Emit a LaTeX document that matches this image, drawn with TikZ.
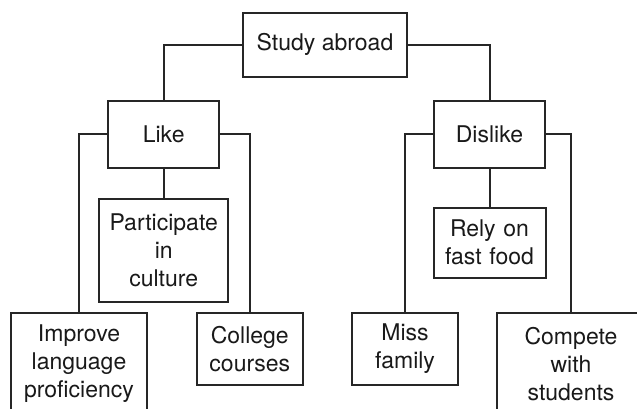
\documentclass[tikz,border=0pt]{standalone}
\usepackage{fontspec}
\setmainfont{TeX Gyre Heros}
\begin{document}
\begin{tikzpicture}[x=1pt,y=-1pt,
  box/.style={draw=black!85, line width=2pt, inner sep=0pt, align=center,
    text=black!90, font=\fontsize{23}{28}\selectfont},
  link/.style={draw=black!85, line width=2pt}]
\useasboundingbox (0,0) rectangle (637,409);
\clip (0,0) rectangle (637,409);
\node[box, minimum width=163.5pt, minimum height=64pt] (root) at (325,44.7) {Study abroad};
\node[box, minimum width=111.5pt, minimum height=67pt] (like) at (163.7,134.2) {Like};
\node[box, minimum width=111pt, minimum height=67pt] (dislike) at (489.5,134.2) {Dislike};
\node[box, minimum width=129.5pt, minimum height=103pt, text width=125pt] (part) at (163.7,250.5) {Participate\\in\\culture};
\node[box, minimum width=112pt, minimum height=70pt, text width=108pt] (rely) at (489.5,242.5) {Rely on\\fast food};
\node[box, minimum width=136pt, minimum height=102pt, text width=132pt] (improve) at (79,364) {Improve\\language\\proficiency};
\node[box, minimum width=105.5pt, minimum height=72pt, text width=100pt] (college) at (249.8,349) {College\\courses};
\node[box, minimum width=106pt, minimum height=72pt, text width=100pt] (miss) at (405,349) {Miss\\family};
\node[box, minimum width=148pt, minimum height=102pt, text width=140pt] (compete) at (571,364) {Compete\\with\\students};
\draw[link] (root.west) -| (like.north);
\draw[link] (root.east) -| (dislike.north);
\draw[link] (like.west) -| (improve.north);
\draw[link] (like.east) -| (college.north);
\draw[link] (like.south) -- (part.north);
\draw[link] (dislike.west) -| (miss.north);
\draw[link] (dislike.east) -| (compete.north);
\draw[link] (dislike.south) -- (rely.north);
\end{tikzpicture}
\end{document}
